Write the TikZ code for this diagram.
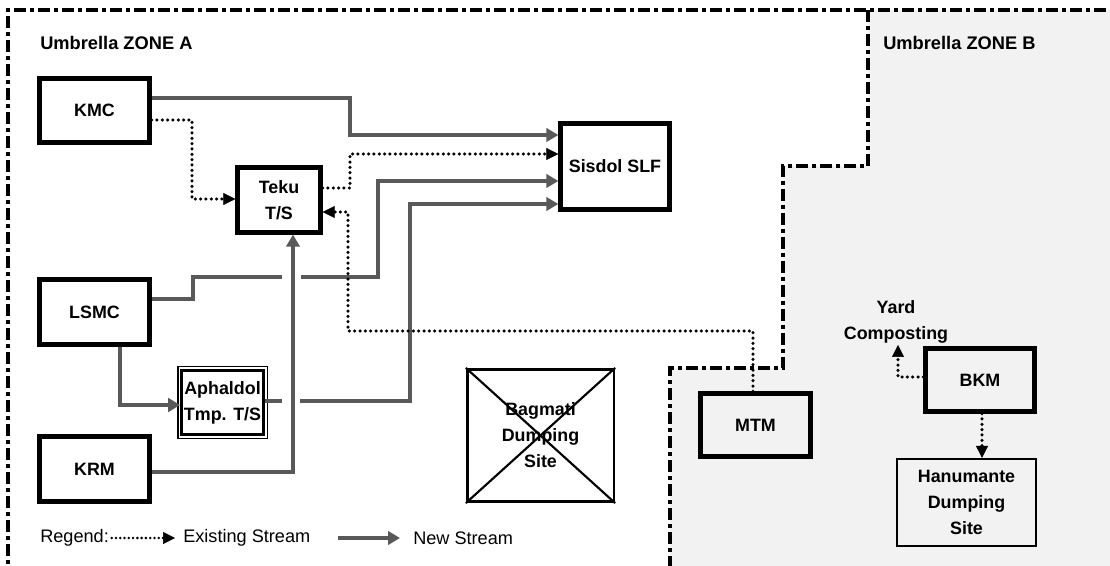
\documentclass[tikz,border=0pt]{standalone}
\usepackage{fontspec}
\setmainfont{Liberation Sans}
\usetikzlibrary{arrows.meta,calc,decorations.markings}
\definecolor{streamgray}{HTML}{595959}
\definecolor{zonefill}{HTML}{F2F2F2}
\definecolor{dotink}{HTML}{000000}
\begin{document}
\begin{tikzpicture}[x=0.75pt,y=-0.75pt,
  every node/.style={font=\fontsize{13.6}{19.5}\selectfont},
  unitbox/.style={draw,line width=3.2pt,inner sep=0pt,align=center,
    font=\fontsize{13.4}{19.5}\selectfont\bfseries},
  thinbox/.style={draw,line width=1.6pt,inner sep=0pt,align=center,
    font=\fontsize{13.4}{19.5}\selectfont\bfseries},
  zoneline/.style={line width=2.4pt,dash pattern=on 9pt off 3pt on 3pt off 3pt},
  newflow/.style={draw=streamgray,line width=2.5pt,
    -{Triangle[length=9pt,width=10pt]}},
  newseg/.style={draw=streamgray,line width=2.5pt},
  % dotted stream: a row of round dots ending in a solid tip
  oldflow/.style 2 args={color=dotink,postaction={decorate,decoration={markings,
    mark=between positions 0 and -7pt step #1 with {\fill (0,0) circle (#2);},
    mark=at position 1 with {\arrow{Triangle[length=9pt,width=9pt]}}}}},
  lbl/.style={font=\fontsize{13.4}{19.5}\selectfont\bfseries,align=center,inner sep=1pt}
]
\useasboundingbox (0,0) rectangle (1110,566);
\clip (0,0) rectangle (1110,566);

% zone B background and borders
\fill[zonefill] (868,10) -- (1120,10) -- (1120,580) -- (670,580) -- (670,368)
  -- (783,368) -- (783,166) -- (868,166) -- cycle;
\draw[zoneline] (8,580) -- (8,10) -- (1120,10);
\draw[zoneline] (868,10) -- (868,166) -- (783,166) -- (783,368) -- (670,368) -- (670,580);

\node[anchor=west,lbl,inner sep=0pt,font=\fontsize{13.7}{19.5}\selectfont\bfseries] (zoneA) at (40,43) {Umbrella ZONE A};
\node[anchor=west,lbl,inner sep=0pt,font=\fontsize{13.7}{19.5}\selectfont\bfseries] (zoneB) at (883,43) {Umbrella ZONE B};

% facilities
\node[unitbox,minimum width=82.5pt,minimum height=48pt] (kmc) at (94.5,110.5) {KMC};
\node[unitbox,minimum width=82.5pt,minimum height=48.75pt] (lsmc) at (94.5,312) {LSMC};
\node[unitbox,minimum width=82.5pt,minimum height=48.75pt] (krm) at (94.5,469) {KRM};
\node[unitbox,minimum width=62.25pt,minimum height=48.75pt] (teku) at (279,200) {Teku\\T/S};
\node[unitbox,minimum width=81.75pt,minimum height=64.5pt] (sis) at (615,166.5) {Sisdol SLF};
\node[unitbox,minimum width=82.5pt,minimum height=47.25pt] (mtm) at (755.5,425) {MTM};
\node[unitbox,minimum width=81.75pt,minimum height=47.25pt] (bkm) at (980,380) {BKM};
\node[thinbox,minimum width=104.25pt,minimum height=65.25pt] (han) at (966.5,502.5) {Hanumante\\Dumping\\Site};
\node[thinbox,line width=1.9pt,minimum width=61.5pt,minimum height=48pt] (aph) at (222.5,402.5) {Aphaldol\\Tmp. T/S};
\draw[line width=1.3pt] ($(aph.south west)+(-2.6,2.6)$) rectangle ($(aph.north east)+(2.6,-2.6)$);

% closed dumping site
\node[thinbox,line width=2pt,minimum width=110pt,minimum height=99.4pt] (bag) at (540.5,435.5) {};
\draw[line width=1.6pt] (bag.north west) -- (bag.south east);
\draw[line width=1.6pt] (bag.south west) -- (bag.north east);
\node[lbl] (bagtxt) at (bag.center) {Bagmati\\Dumping\\Site};

\node[lbl] (yard) at (896,322) {Yard\\Composting};

% new streams
\draw[newflow] (kmc.east |- 0,98) -| (350,135) -- (sis.west |- 0,135);
\draw[newseg] (lsmc.east |- 0,299) -| (193,277) -- (282,277);
\draw[newflow] (301,277) -| (378,181) -- (sis.west |- 0,181);
\draw[newseg] (aph.east |- 0,401) -- (282,401);
\draw[newflow] (300,401) -| (410,204) -- (sis.west |- 0,204);
\draw[newflow] (120,0 |- lsmc.south) |- (aph.west |- 0,405);
\draw[newflow] (krm.east |- 0,472) -| (293,0 |- teku.south);

% existing streams
\path[oldflow={4pt}{1.3pt}] (kmc.east |- 0,120) -| (192,199) -- (teku.west |- 0,199);
\path[oldflow={4pt}{1.3pt}] (teku.east |- 0,188) -| (350,154) -- (sis.west |- 0,154);
\path[oldflow={4pt}{1.3pt}] (753,0 |- mtm.north) |- (348,331) |- (teku.east |- 0,212);
\path[oldflow={4pt}{1.3pt}] (bkm.west |- 0,377) -| (yard.south -| 898,0);
\path[oldflow={4pt}{1.3pt}] (982,0 |- bkm.south) -- (982,0 |- han.north);

% legend
\node[anchor=west,inner sep=0pt] (regend) at (40,538) {Regend:};
\node[anchor=west,inner sep=0pt] (exlbl) at (183,538) {Existing Stream};
\path[oldflow={3.2pt}{1.05pt}] ([xshift=2pt]regend.east) -- ([xshift=-6pt]exlbl.west);
\coordinate (newstart) at (338,538);
\node[anchor=west,inner sep=0pt] (newlbl) at (413,538) {New Stream};
\draw[newflow] (newstart) -- ([xshift=-9.75pt]newlbl.west);
\end{tikzpicture}
\end{document}
